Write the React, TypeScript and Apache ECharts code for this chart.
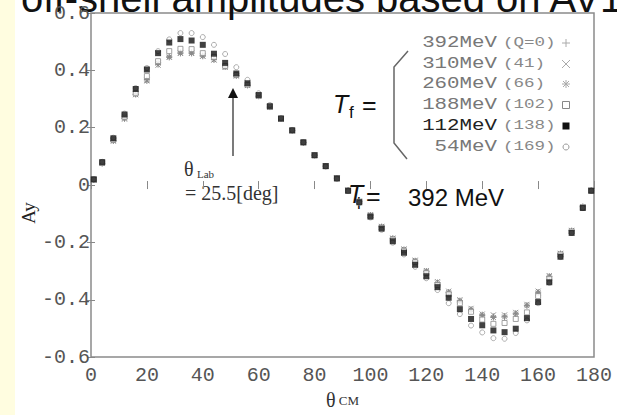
import React, { useEffect, useRef } from "react";
import * as echarts from "echarts";

const MONO = '"Liberation Mono", "DejaVu Sans Mono", monospace';
const SANS = '"Liberation Sans", Arial, sans-serif';
const SERIF = '"Liberation Serif", "DejaVu Serif", serif';

// scattering angle (deg, CM)
const THETA = [1, 4, 8, 12, 16, 20, 24, 28, 32, 36, 40, 44, 48, 52, 56, 60, 64, 68, 72, 76, 80, 84, 88, 92, 96, 100, 104, 108, 112, 116, 120, 124, 128, 132, 136, 140, 144, 148, 152, 156, 160, 164, 168, 172, 176, 179];

// Ay for each final energy T_f
const AY_392 = [0.018, 0.075, 0.154, 0.231, 0.316, 0.368, 0.42, 0.449, 0.463, 0.463, 0.452, 0.438, 0.412, 0.381, 0.348, 0.31, 0.272, 0.231, 0.19, 0.148, 0.104, 0.066, 0.024, -0.018, -0.057, -0.105, -0.145, -0.186, -0.225, -0.264, -0.3, -0.34, -0.373, -0.403, -0.433, -0.452, -0.458, -0.457, -0.447, -0.419, -0.373, -0.318, -0.239, -0.159, -0.075, -0.018];
const AY_310 = [0.018, 0.075, 0.153, 0.23, 0.315, 0.365, 0.418, 0.447, 0.461, 0.461, 0.45, 0.436, 0.41, 0.38, 0.347, 0.309, 0.271, 0.23, 0.189, 0.148, 0.104, 0.066, 0.024, -0.018, -0.056, -0.104, -0.144, -0.185, -0.223, -0.262, -0.298, -0.337, -0.37, -0.4, -0.43, -0.45, -0.453, -0.453, -0.444, -0.416, -0.37, -0.316, -0.238, -0.158, -0.075, -0.018];
const AY_260 = [0.018, 0.076, 0.155, 0.233, 0.317, 0.363, 0.425, 0.445, 0.459, 0.459, 0.449, 0.437, 0.413, 0.382, 0.348, 0.31, 0.272, 0.231, 0.19, 0.148, 0.104, 0.066, 0.024, -0.018, -0.057, -0.105, -0.146, -0.187, -0.226, -0.265, -0.302, -0.342, -0.375, -0.405, -0.436, -0.455, -0.462, -0.46, -0.45, -0.421, -0.376, -0.32, -0.24, -0.16, -0.076, -0.019];
const AY_188 = [0.019, 0.077, 0.158, 0.238, 0.32, 0.38, 0.432, 0.467, 0.475, 0.474, 0.46, 0.447, 0.415, 0.384, 0.35, 0.311, 0.273, 0.231, 0.19, 0.149, 0.104, 0.066, 0.024, -0.019, -0.058, -0.107, -0.148, -0.19, -0.229, -0.269, -0.307, -0.349, -0.381, -0.412, -0.442, -0.469, -0.484, -0.481, -0.467, -0.444, -0.387, -0.327, -0.242, -0.162, -0.077, -0.019];
const AY_112 = [0.02, 0.08, 0.163, 0.246, 0.335, 0.403, 0.46, 0.497, 0.509, 0.504, 0.489, 0.458, 0.426, 0.389, 0.355, 0.314, 0.275, 0.232, 0.191, 0.149, 0.104, 0.066, 0.023, -0.02, -0.06, -0.11, -0.152, -0.196, -0.236, -0.278, -0.318, -0.356, -0.393, -0.433, -0.467, -0.489, -0.507, -0.513, -0.501, -0.464, -0.408, -0.339, -0.25, -0.167, -0.08, -0.02];
const AY_54 = [0.02, 0.081, 0.165, 0.249, 0.338, 0.408, 0.467, 0.508, 0.53, 0.53, 0.516, 0.489, 0.457, 0.411, 0.367, 0.32, 0.279, 0.234, 0.192, 0.149, 0.104, 0.065, 0.022, -0.021, -0.062, -0.113, -0.156, -0.201, -0.242, -0.285, -0.325, -0.366, -0.412, -0.45, -0.49, -0.514, -0.534, -0.536, -0.516, -0.472, -0.412, -0.341, -0.251, -0.167, -0.08, -0.02];

const LEGEND_MAIN = ["392MeV", "310MeV", "260MeV", "188MeV", "112MeV", "54MeV"];
const LEGEND_PAREN = ["(Q=0)", "(41)", "(66)", "(102)", "(138)", "(169)"];

const X_TICKS = { min: 0, max: 180, interval: 20 };
const Y_TICKS = { min: -0.6, max: 0.6, interval: 0.2 };

const P_PLUS = "path://M5,0L5,10M0,5L10,5";
const P_CROSS = "path://M0,0L10,10M10,0L0,10";
const P_STAR = "path://M5,0L5,10M0,5L10,5M1,1L9,9M9,1L1,9";

function pts(vals: number[]) {
  return THETA.map((t, i) => [t, vals[i]]);
}

export default function App() {
  const ref = useRef<HTMLDivElement>(null);
  useEffect(() => {
    if (!ref.current) return;
    const chart = echarts.init(ref.current, null, { renderer: "svg" });
    const gray = "#8a8a8a";
    const strokeSeries = (name: string, vals: number[], symbol: string, size: number, z: number) => ({
      name,
      type: "scatter",
      data: pts(vals),
      symbol,
      symbolSize: size,
      z,
      itemStyle: { color: "none", borderColor: gray, borderWidth: 1, opacity: 1 },
    });
    const legendRowsY = [43, 64, 84, 105, 126, 147];
    const graphics: any[] = [
      { type: "rect", shape: { x: 0, y: 0, width: 15, height: 415 }, style: { fill: "#FFFDE0" }, z: -10 },
      {
        type: "text", x: 21, y: 18,
        style: { text: "off-shell amplitudes based on AV18", fontSize: 40, fontFamily: SANS, fill: "#111", verticalAlign: "bottom", align: "left" },
      },
      // T_f =
      { type: "text", x: 333, y: 104, style: { text: "T", fontSize: 25, fontStyle: "italic", fontFamily: SANS, fill: "#111", verticalAlign: "middle" } },
      { type: "text", x: 349, y: 112, style: { text: "f", fontSize: 17, fontFamily: SANS, fill: "#111", verticalAlign: "middle" } },
      { type: "text", x: 362, y: 105, style: { text: "=", fontSize: 25, fontFamily: SANS, fill: "#111", verticalAlign: "middle" } },
      // bracket
      { type: "polyline", shape: { points: [[408, 51], [394, 67], [394, 143], [407, 159]] }, style: { stroke: "#666", lineWidth: 1.5, fill: "none" } },
      // T_l = 392 MeV
      { type: "text", x: 348, y: 194, style: { text: "T", fontSize: 25, fontStyle: "italic", fontFamily: SANS, fill: "#111", verticalAlign: "middle" } },
      { type: "text", x: 357, y: 203, style: { text: "l", fontSize: 17, fontFamily: SANS, fill: "#111", verticalAlign: "middle" } },
      { type: "text", x: 366, y: 196, style: { text: "=", fontSize: 25, fontFamily: SANS, fill: "#111", verticalAlign: "middle" } },
      { type: "text", x: 408, y: 197, style: { text: "392 MeV", fontSize: 24, fontFamily: SANS, fill: "#111", verticalAlign: "middle" } },
      // theta_Lab annotation
      { type: "line", shape: { x1: 233, y1: 156, x2: 233, y2: 96 }, style: { stroke: "#222", lineWidth: 1.2 } },
      { type: "polygon", shape: { points: [[228, 98], [238, 98], [233, 88]] }, style: { fill: "#111" } },
      { type: "text", x: 184, y: 169, style: { text: "θ", fontSize: 20, fontFamily: SERIF, fill: "#333", verticalAlign: "middle" } },
      { type: "text", x: 197, y: 174, style: { text: "Lab", fontSize: 11, fontFamily: SERIF, fill: "#333", verticalAlign: "middle" } },
      { type: "text", x: 185, y: 193, style: { text: "= 25.5[deg]", fontSize: 20, fontFamily: SERIF, fill: "#333", verticalAlign: "middle" } },
      // Ay label
      { type: "text", x: 28, y: 213, rotation: Math.PI / 2, style: { text: "Ay", fontSize: 19, fontFamily: SERIF, fill: "#222", align: "center", verticalAlign: "middle" } },
    ];
    LEGEND_MAIN.forEach((t, i) => {
      graphics.push({
        type: "text", x: 497, y: legendRowsY[i], scaleX: 1.3,
        style: { text: t, fontSize: 16, fontFamily: MONO, fill: i === 4 ? "#222" : "#777", align: "right", verticalAlign: "middle" },
      });
      graphics.push({
        type: "text", x: 503, y: legendRowsY[i], scaleX: 1.3,
        style: { text: LEGEND_PAREN[i], fontSize: 13.5, fontFamily: MONO, fill: "#888", align: "left", verticalAlign: "middle" },
      });
    });
    const mx = 566;
    const ly = legendRowsY;
    const lg = "#aaa";
    graphics.push(
      { type: "line", shape: { x1: mx - 4, y1: ly[0], x2: mx + 4, y2: ly[0] }, style: { stroke: lg, lineWidth: 1 } },
      { type: "line", shape: { x1: mx, y1: ly[0] - 4, x2: mx, y2: ly[0] + 4 }, style: { stroke: lg, lineWidth: 1 } },
      { type: "line", shape: { x1: mx - 4, y1: ly[1] - 4, x2: mx + 4, y2: ly[1] + 4 }, style: { stroke: lg, lineWidth: 1 } },
      { type: "line", shape: { x1: mx + 4, y1: ly[1] - 4, x2: mx - 4, y2: ly[1] + 4 }, style: { stroke: lg, lineWidth: 1 } },
      { type: "line", shape: { x1: mx - 4, y1: ly[2], x2: mx + 4, y2: ly[2] }, style: { stroke: lg, lineWidth: 1 } },
      { type: "line", shape: { x1: mx, y1: ly[2] - 4, x2: mx, y2: ly[2] + 4 }, style: { stroke: lg, lineWidth: 1 } },
      { type: "line", shape: { x1: mx - 3, y1: ly[2] - 3, x2: mx + 3, y2: ly[2] + 3 }, style: { stroke: lg, lineWidth: 1 } },
      { type: "line", shape: { x1: mx + 3, y1: ly[2] - 3, x2: mx - 3, y2: ly[2] + 3 }, style: { stroke: lg, lineWidth: 1 } },
      { type: "rect", shape: { x: mx - 3.5, y: ly[3] - 3.5, width: 7, height: 7 }, style: { stroke: "#888", fill: "#fff", lineWidth: 1 } },
      { type: "rect", shape: { x: mx - 3.5, y: ly[4] - 3.5, width: 7, height: 7 }, style: { fill: "#111" } },
      { type: "circle", shape: { cx: mx, cy: ly[5], r: 3 }, style: { stroke: "#999", fill: "#fff", lineWidth: 1 } },
    );

    const tickStyle = { show: true, inside: true, length: 4, lineStyle: { color: "#888", width: 1 } };
    const labelFont = { fontFamily: MONO, fontSize: 20, color: "#555" };
    chart.setOption({
      animation: false,
      backgroundColor: "#fff",
      grid: { left: 91, top: 13, width: 503, height: 349, show: true, borderColor: "#8a8a8a", borderWidth: 1.5, backgroundColor: "transparent" },
      xAxis: [
        {
          type: "value", ...X_TICKS, position: "bottom",
          axisLine: { show: false }, splitLine: { show: false }, axisTick: tickStyle,
          axisLabel: { ...labelFont, margin: 8 },
          name: "{a|θ}{b| CM}", nameLocation: "middle", nameGap: 31,
          nameTextStyle: { rich: { a: { fontFamily: SERIF, fontSize: 20, color: "#333" }, b: { fontFamily: SERIF, fontSize: 13, color: "#333" } } },
        },
        { type: "value", ...X_TICKS, position: "top", axisLine: { show: false }, splitLine: { show: false }, axisTick: tickStyle, axisLabel: { show: false } },
      ],
      yAxis: [
        {
          type: "value", ...Y_TICKS, position: "left",
          axisLine: { show: false }, splitLine: { show: false }, axisTick: tickStyle,
          axisLabel: { ...labelFont, margin: 1, formatter: (v: number) => String(Math.round(v * 10) / 10) },
        },
        { type: "value", ...Y_TICKS, position: "right", axisLine: { show: false }, splitLine: { show: false }, axisTick: tickStyle, axisLabel: { show: false } },
      ],
      series: [
        strokeSeries("392MeV", AY_392, P_PLUS, 6, 2),
        strokeSeries("310MeV", AY_310, P_CROSS, 5, 2),
        strokeSeries("260MeV", AY_260, P_STAR, 6, 2),
        { name: "188MeV", type: "scatter", data: pts(AY_188), symbol: "rect", symbolSize: 5, z: 3, itemStyle: { color: "#fff", borderColor: gray, borderWidth: 1 } },
        { name: "54MeV", type: "scatter", data: pts(AY_54), symbol: "circle", symbolSize: 5, z: 4, itemStyle: { color: "#fff", borderColor: "#999", borderWidth: 1 } },
        { name: "112MeV", type: "scatter", data: pts(AY_112), symbol: "rect", symbolSize: 6, z: 5, itemStyle: { color: "#111" } },
      ],
      graphic: graphics,
    });
    return () => chart.dispose();
  }, []);
  return <div ref={ref} style={{ position: "fixed", left: 0, top: 0, width: 617, height: 415 }} />;
}
